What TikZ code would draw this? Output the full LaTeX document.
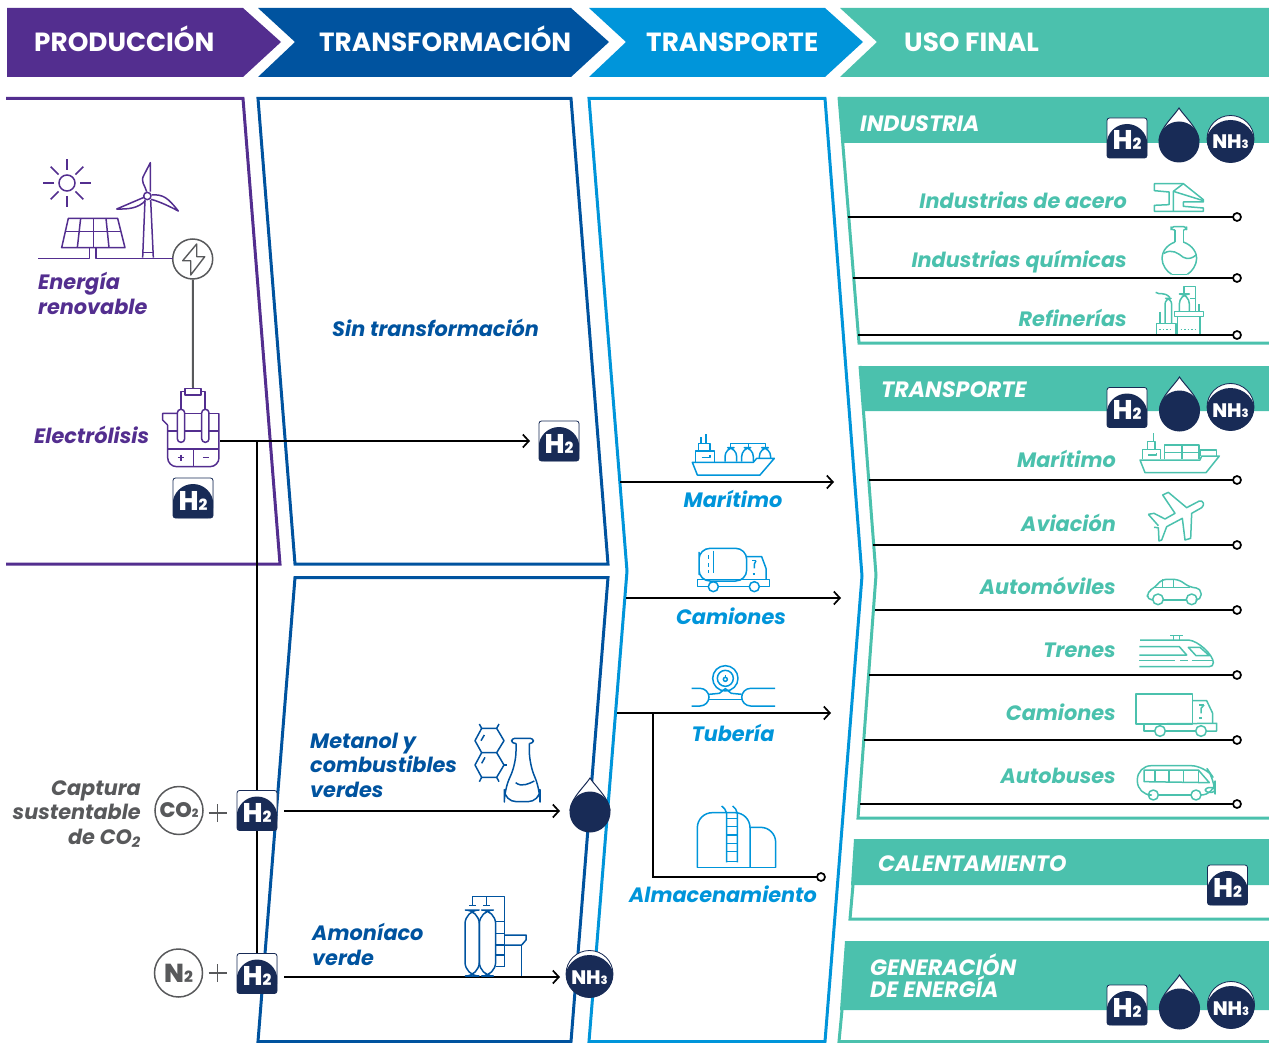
\documentclass[tikz,border=0pt]{standalone}
\usepackage{fontspec}
\setmainfont{Poppins}
\newfontfamily\heavyfont{Poppins ExtraBold}
\usetikzlibrary{arrows.meta,backgrounds}
\definecolor{prodcol}{HTML}{532E8F}
\definecolor{transfcol}{HTML}{00539F}
\definecolor{skycol}{HTML}{0095DA}
\definecolor{tealcol}{HTML}{4BC1AD}
\definecolor{navycol}{HTML}{182B56}
\definecolor{graycol}{HTML}{58595B}
\tikzset{
	headtxt/.style={anchor=west,inner sep=0,text=white,text height=22pt,text depth=0pt,font=\bfseries\fontsize{26.3}{26}\selectfont},
	bandtxt/.style={anchor=west,inner sep=0,align=left,text=white,font=\bfseries\itshape\fontsize{22.2}{22}\selectfont},
	lbl/.style={inner sep=0,font=\bfseries\itshape\fontsize{20.8}{24.5}\selectfont},
	lone/.style={lbl,text height=15pt,text depth=0pt},
	hbadge/.style={rounded corners=2.5pt,draw=navycol,line width=.8pt,fill=navycol,minimum size=40pt,inner sep=0,outer sep=0,
		text=white,text height=24pt,text depth=0pt,font=\heavyfont\fontsize{27}{27}\selectfont,
		path picture={\fill[white] (path picture bounding box.north west) rectangle ([yshift=-6pt]path picture bounding box.east);
			\fill[navycol] ([yshift=-6.4pt]path picture bounding box.center) circle (20.4pt);}},
	nhbadge/.style={circle,draw=navycol,line width=.8pt,fill=navycol,minimum size=47pt,inner sep=0,outer sep=0,
		text=white,text height=20pt,text depth=0pt,font=\heavyfont\fontsize{19.5}{20}\selectfont,
		path picture={\fill[white] (path picture bounding box.north west) rectangle (path picture bounding box.east);
			\fill[navycol] ([yshift=-6pt]path picture bounding box.center) circle (25pt);}},
	dropnode/.style={circle,fill=navycol,minimum size=41pt,inner sep=0,outer sep=0},
	gascirc/.style={circle,draw=graycol,line width=1.5pt,fill=white,minimum size=48pt,inner sep=0,text=graycol},
	endring/.style={circle,draw=black,line width=1.7pt,fill=white,minimum size=8pt,inner sep=0,outer sep=0},
	conn/.style={draw=black,line width=1.7pt},
	flow/.style={conn,-{Straight Barb[length=6pt,width=13pt]}},
	panel/.style={line width=3pt},
	icn/.style={shift={(#1)},scale=1/3,line width=1.5pt,line join=round},
}
\newcommand{\hsub}[1]{{\fontsize{15.5}{16}\selectfont #1}}
\newcommand{\nsub}[1]{{\fontsize{11.5}{12}\selectfont #1}}
\newcommand{\dropmark}[3]{%
	\draw[navycol,fill=white,line width=1pt] (#2,#3-34) .. controls (#2-5,#3-26) and (#2-19,#3-14) .. (#2-20,#3-2) -- (#2+20,#3-2) .. controls (#2+19,#3-14) and (#2+5,#3-26) .. cycle;
	\node[dropnode] (#1) at (#2,#3) {};}
\begin{document}
\begin{tikzpicture}[x=1pt,y=-1pt]
	\useasboundingbox (0,0) rectangle (1269,1043);
	% headers
	\fill[prodcol] (7,8) -- (243,8) -- (281,42) -- (243,77) -- (7,77) -- cycle;
	\fill[transfcol] (258,8) -- (571,8) -- (609,42) -- (571,77) -- (258,77) -- (295,42) -- cycle;
	\fill[skycol] (589,8) -- (825,8) -- (863,42) -- (825,77) -- (589,77) -- (626,42) -- cycle;
	\fill[tealcol] (840,8) -- (1269,8) -- (1269,77) -- (840,77) -- (877,42) -- cycle;
	\node[headtxt] (hprod) at (34,41) {PRODUCCIÓN};
	\node[headtxt] (htransf) at (319,41) {TRANSFORMACIÓN};
	\node[headtxt] (htransp) at (646,41) {TRANSPORTE};
	\node[headtxt] (huso) at (904,41) {USO FINAL};
	% panels
	\begin{scope}[on background layer]
		\draw[panel,prodcol] (6,98.5) -- (243,98.5) -- (280,564) -- (6,564);
		\draw[panel,transfcol] (258,98.5) -- (571,98.5) -- (608,564) -- (295,564) -- cycle;
		\draw[panel,transfcol] (295,577.5) -- (608,577.5) -- (571,1041.5) -- (258,1041.5) -- cycle;
		\draw[panel,skycol] (589,98.5) -- (825,98.5) -- (862,576) -- (825,1041.5) -- (589,1041.5) -- (627,571) -- cycle;
		\fill[tealcol] (838,97) -- (1269,97) -- (1269,143) -- (842,143) -- cycle;
		\fill[tealcol] (859,366) -- (1269,366) -- (1269,411) -- (863,411) -- cycle;
		\fill[tealcol] (854,839) -- (1269,839) -- (1269,885) -- (851,885) -- cycle;
		\fill[tealcol] (845,941) -- (1269,941) -- (1269,1010) -- (840,1010) -- cycle;
		\draw[panel,tealcol] (839,97) -- (859,343) -- (1269,343);
		\draw[panel,tealcol] (860,366) -- (876,575) -- (858,818) -- (1269,818);
		\draw[panel,tealcol] (853,885) -- (850,919) -- (1269,919);
		\draw[panel,tealcol] (842,1010) -- (839,1041.5) -- (1269,1041.5);
	\end{scope}
	\node[bandtxt] (bind) at (860,124) {INDUSTRIA};
	\node[bandtxt] (btra) at (881,390) {TRANSPORTE};
	\node[bandtxt] (bcal) at (878,864) {CALENTAMIENTO};
	\node[bandtxt] (bgen) at (870,976) {GENERACIÓN\\DE ENERGÍA};
	% carrier marks
	\node[hbadge] (hele) at (193,498) {H\hsub{2}};
	\node[hbadge] (hsin) at (559,441) {H\hsub{2}};
	\node[hbadge] (hco) at (257,810.5) {H\hsub{2}};
	\node[hbadge] (hnit) at (257,973.5) {H\hsub{2}};
	\node[hbadge] (hind) at (1127,138) {H\hsub{2}};
	\node[hbadge] (htra) at (1127,407.5) {H\hsub{2}};
	\node[hbadge] (hcal) at (1227.5,885) {H\hsub{2}};
	\node[hbadge] (hgen) at (1127,1005) {H\hsub{2}};
	\node[nhbadge] (nind) at (1230.5,139) {NH\nsub{3}};
	\node[nhbadge] (ntra) at (1230.5,407) {NH\nsub{3}};
	\node[nhbadge] (ngen) at (1231,1005) {NH\nsub{3}};
	\node[nhbadge] (nverde) at (589.5,974) {NH\nsub{3}};
	\dropmark{dmet}{590}{812}
	\dropmark{dind}{1179}{142}
	\dropmark{dtra}{1179.5}{411}
	\dropmark{dgen}{1179.5}{1009}
	% production
	\node[lbl,prodcol,anchor=west,align=left] (lren) at (38,293.5) {Energía\\renovable};
	\node[lone,prodcol,anchor=west] (lele) at (34,436) {Electrólisis};
	\node[lbl,graycol,anchor=east,align=right] (lcap) at (141,814) {Captura\\sustentable\\de CO\textsubscript{2}};
	\node[gascirc,font=\heavyfont\fontsize{21}{21}\selectfont] (gco) at (179,810.5) {CO\nsub{2}};
	\node[gascirc,font=\heavyfont\fontsize{26}{26}\selectfont] (gni) at (178.5,973) {N\hsub{2}};
	\node[circle,draw=graycol,line width=1.5pt,fill=white,minimum size=40pt,inner sep=0] (bolt) at (192.7,259) {};
	\draw[graycol,line width=1.4pt,line join=round] (196.7,244) -- (182.7,260.7) -- (190.7,260.7) -- (190.7,275) -- (204.7,256.7) -- (196.7,256.7) -- cycle;
	\coordinate (eletop) at (193,388);
	\coordinate (eleout) at (220,441);
	\coordinate (bus) at (257,441);
	\draw[graycol,line width=2pt] (bolt) -- (eletop);
	\foreach \pa/\pb in {0/13,90/13,180/13,270/13,45/12,135/12,225/12,315/12}
		\draw[prodcol,line width=1.5pt] (67,183) ++(\pa:\pb) -- ++(\pa:11);
	\draw[prodcol,line width=1.5pt] (67,183) circle (8);
	\begin{scope}[icn={0,90},prodcol]
		\draw (205,385) -- (353,385) -- (375,473) -- (185,473) -- cycle;
		\draw (195,425) -- (363,425);
		\draw (242,385) -- (232,473);
		\draw (280,385) -- (280,473);
		\draw (318,385) -- (327,473);
		\draw (115,505) -- (268,505) -- (268,475);
		\draw (288,475) -- (288,505) -- (520,505);
		\draw (428,503) -- (435,330);
		\draw (460,503) -- (452,330);
		\draw (428,488) -- (460,488);
		\draw (442,318) circle (11);
		\draw (440,305) .. controls (435,285) and (420,275) .. (432,255) -- (451,218) -- (451,305);
		\draw (432,322) -- (350,357) .. controls (385,358) and (415,355) .. (436,332);
		\draw (455,315) .. controls (490,312) and (505,325) .. (535,363) .. controls (510,350) and (480,335) .. (453,328);
	\end{scope}
	\begin{scope}[icn={0,370},prodcol]
		\draw (555,55) rectangle (603,75);
		\draw (555,65) -- (543,65) -- (543,118);
		\draw (603,65) -- (615,65) -- (615,118);
		\draw[rounded corners=9pt] (503,165) -- (503,290) -- (657,290) -- (657,130);
		\draw (657,130) -- (627,130);
		\draw (605,130) -- (554,130);
		\draw (532,130) -- (488,130) -- (488,150) -- (503,165);
		\draw (503,183) -- (532,183);
		\draw (554,183) -- (605,183);
		\draw (627,183) -- (657,183);
		\draw (503,237) -- (657,237);
		\draw (581,237) -- (581,290);
		\draw[rounded corners=3.5pt] (532,118) rectangle (554,217);
		\draw[rounded corners=3.5pt] (605,118) rectangle (627,217);
		\draw (534,263) -- (552,263);
		\draw (543,254) -- (543,272);
		\draw (609,263) -- (627,263);
	\end{scope}
	\draw[graycol,line width=1.2pt] (208.7,813) -- (226.7,813);
	\draw[graycol,line width=1.2pt] (217.7,804) -- (217.7,822);
	\draw[graycol,line width=1.2pt] (208.7,973) -- (226.7,973);
	\draw[graycol,line width=1.2pt] (217.7,964) -- (217.7,982);
	% transformation
	\node[lone,transfcol,anchor=west] (lsin) at (332,329) {Sin transformación};
	\node[lbl,transfcol,anchor=west,align=left] (lmet) at (310,765) {Metanol y\\combustibles\\verdes};
	\node[lbl,transfcol,anchor=west,align=left] (lamo) at (312,944.5) {Amoníaco\\verde};
	\begin{scope}[icn={450,700},transfcol]
		\draw (95,85) -- (140,85) -- (162,122) -- (140,158) -- (95,158) -- (75,122) -- cycle;
		\draw (95,158) -- (75,195) -- (95,232) -- (140,232) -- (162,195) -- (140,158);
		\draw (95,85) -- (88,72);
		\draw (140,85) -- (147,72);
		\draw (95,232) -- (88,245);
		\draw (140,232) -- (147,245);
		\draw (162,195) -- (170,195);
		\draw (103,105) -- (93,122);
		\draw (105,172) -- (95,190);
		\draw[rounded corners=3pt] (198,130) -- (185,130) -- (185,115) -- (250,115) -- (250,130) -- (238,130);
		\draw[rounded corners=12pt] (198,130) -- (198,190) -- (163,270) -- (163,305) -- (270,305) -- (270,270) -- (238,190) -- (238,130);
		\draw (197,248) .. controls (215,262) and (235,252) .. (253,243);
		\draw[rounded corners=14pt] (45,828) -- (45,630) -- (88,630) -- (88,828) -- cycle;
		\draw[rounded corners=14pt] (88,828) -- (88,630) -- (137,630) -- (137,828) -- cycle;
		\draw (68,617) -- (68,590) -- (163,590) -- (163,800);
		\draw (110,590) -- (110,617);
		\draw (58,617) -- (78,617);
		\draw (100,617) -- (120,617);
		\foreach \ya in {665,700,735,765,800}
			\draw (137,\ya) -- (163,\ya);
		\draw (163,705) -- (228,705) -- (228,720) -- (215,735) -- (163,735);
		\draw (215,735) -- (215,828);
	\end{scope}
	% transport
	\node[lone,skycol] (lmar) at (733,500) {Marítimo};
	\node[lone,skycol] (lcam) at (731,617) {Camiones};
	\node[lone,skycol] (ltub) at (733,734) {Tubería};
	\node[lone,skycol] (lalm) at (723,895) {Almacenamiento};
	\begin{scope}[icn={620,420},skycol]
		\draw (217,127) -- (400,127) -- (410,115) -- (463,115) -- (420,165) -- (232,165) -- cycle;
		\draw (227,125) -- (227,93) -- (283,93) -- (283,125);
		\draw (235,93) -- (235,70) -- (270,70) -- (270,93);
		\draw (258,70) -- (258,43);
		\draw (243,70) -- (243,50);
		\draw (245,113) -- (270,113) -- (270,105);
		\draw[rounded corners=9pt] (315,125) -- (315,83) -- (350,83) -- (350,125);
		\draw[rounded corners=9pt] (365,125) -- (365,83) -- (400,83) -- (400,125);
		\draw[rounded corners=9pt] (418,115) -- (418,83) -- (452,83) -- (452,115);
		\draw (332,83) -- (332,70) -- (437,70) -- (437,83);
		\draw (385,70) -- (385,83);
		\draw[rounded corners=11pt] (237,430) -- (237,385) -- (380,385) -- (380,483) -- (237,483) -- cycle;
		\draw (280,392) -- (280,458);
		\draw (265,405) -- (265,418);
		\draw (265,430) -- (265,440);
		\draw (265,450) -- (265,460);
		\draw (380,410) -- (425,410) -- (438,445) -- (438,478);
		\draw (408,422) -- (395,422);
		\draw (408,422) -- (403,432) -- (403,445);
		\draw (398,462) -- (406,462);
		\draw (265,500) -- (232,500) -- (232,478) -- (448,478) -- (448,500) -- (418,500);
		\draw (295,500) -- (388,500);
		\draw (280,500) circle (15);
		\draw (403,500) circle (15);
		\draw (316,775) circle (38);
		\draw (316,775) circle (24);
		\draw (316,778) circle (6);
		\draw (316,765) -- (316,772);
		\draw[rounded corners=9pt] (215,805) -- (267,805) -- (267,858) -- (215,858);
		\draw[rounded corners=9pt] (465,805) -- (365,805) -- (365,858) -- (465,858);
		\draw (267,823) -- (298,820) -- (316,806) -- (334,820) -- (365,823);
		\draw (267,838) -- (365,838);
	\end{scope}
	\begin{scope}[icn={620,700},skycol]
		\draw[rounded corners=15pt] (232,503) -- (232,338) -- (390,338) -- (390,503);
		\draw[rounded corners=15pt] (390,382) -- (467,382) -- (467,503);
		\draw (232,503) -- (467,503);
		\draw (320,487) -- (320,340) .. controls (318,330) and (312,323) .. (305,318);
		\draw (352,487) -- (352,340) .. controls (350,330) and (345,323) .. (338,318);
		\foreach \ya in {355,380,405,430,455,485}
			\draw (320,\ya) -- (352,\ya);
	\end{scope}
	% end uses
	\node[lone,tealcol,anchor=east] (lacero) at (1127,201) {Industrias de acero};
	\node[lone,tealcol,anchor=east] (lquim) at (1127,260) {Industrias químicas};
	\node[lone,tealcol,anchor=east] (lref) at (1127,319) {Refinerías};
	\node[lone,tealcol,anchor=east] (lumar) at (1116,460) {Marítimo};
	\node[lone,tealcol,anchor=east] (lavi) at (1116,524) {Aviación};
	\node[lone,tealcol,anchor=east] (laut) at (1116,587) {Automóviles};
	\node[lone,tealcol,anchor=east] (ltre) at (1116,650) {Trenes};
	\node[lone,tealcol,anchor=east] (lucam) at (1116,713) {Camiones};
	\node[lone,tealcol,anchor=east] (lbus) at (1116,776) {Autobuses};
	\begin{scope}[icn={1145,178},tealcol]
		\draw (28,17) -- (115,17) -- (175,65) -- (175,72) -- (115,72) -- (115,85) -- (175,90) -- (175,100) -- (28,100) -- (28,82) -- (72,80) -- (72,42) -- (28,38) -- cycle;
		\draw (115,17) -- (85,40) -- (85,100);
		\draw (85,40) -- (175,68);
	\end{scope}
	\begin{scope}[icn={1090,95},tealcol]
		\draw[rounded corners=3pt] (255,405) -- (243,405) -- (243,395) -- (290,395) -- (290,405) -- (280,405);
		\draw (255,405) -- (255,441);
		\draw (280,405) -- (280,441);
		\draw (245,538) -- (292,538);
		\draw (255,441) .. controls (225,452) and (216,475) .. (216,490) .. controls (216,510) and (230,530) .. (245,538);
		\draw (280,441) .. controls (310,452) and (320,475) .. (320,490) .. controls (320,510) and (306,530) .. (292,538);
		\draw (222,475) .. controls (245,460) and (265,475) .. (280,487) .. controls (295,495) and (310,488) .. (318,480);
		\draw (200,718) -- (200,685) -- (258,685) -- (258,718);
		\draw[rounded corners=6pt] (225,685) -- (225,610) -- (245,610) -- (245,685);
		\draw (197,592) .. controls (210,602) and (222,588) .. (240,608);
		\draw (210,650) -- (210,685);
		\draw (253,650) -- (340,650) -- (340,665) -- (253,665) -- cycle;
		\draw (262,665) -- (262,718);
		\draw (330,665) -- (330,718);
		\draw[rounded corners=10pt] (268,650) -- (268,597) -- (298,597) -- (298,650);
		\draw (282,597) -- (282,575) -- (317,575) -- (317,650);
		\draw (300,610) -- (317,610);
		\draw (327,628) -- (327,650);
		\draw[dash pattern=on 1.5pt off 2pt] (208,703) -- (250,703);
		\draw[dash pattern=on 1.5pt off 2pt] (272,703) -- (320,703);
	\end{scope}
	\begin{scope}[icn={1140,485},tealcol]
		\draw (25,88) -- (42,85) -- (75,102) -- (105,85) -- (68,30) -- (85,22) -- (140,68) -- (178,48) .. controls (190,45) and (195,60) .. (185,68) -- (155,85) -- (152,160) -- (135,165) -- (127,100) -- (80,125) -- (65,165) -- (57,168) -- (55,128) -- (42,127);
		\draw (25,88) -- (55,122);
	\end{scope}
	\begin{scope}[icn={1090,370},tealcol]
		\draw (150,270) -- (330,270) -- (335,258) -- (388,258) -- (348,308) -- (165,308) -- cycle;
		\draw (158,268) -- (158,238) -- (212,238) -- (212,268);
		\draw (172,238) -- (172,215) -- (195,215) -- (195,238);
		\draw (190,215) -- (190,190);
		\draw (175,255) -- (200,255) -- (200,248);
		\draw (223,268) -- (223,225) -- (327,225) -- (327,268);
		\draw (223,247) -- (327,247);
		\draw (276,225) -- (276,268);
		\draw (330,258) -- (330,240) -- (380,240) -- (380,258);
		\draw[rounded corners=5pt] (188,690) -- (172,690) -- (172,665) -- (195,652) -- (215,628) -- (265,628) -- (300,652) -- (333,655) -- (333,690) -- (322,690);
		\draw (220,690) -- (290,690);
		\draw (195,652) -- (300,652);
		\draw (218,628) -- (218,652);
		\draw (250,628) -- (250,652);
		\draw (204,688) circle (16);
		\draw (305,688) circle (16);
	\end{scope}
	\begin{scope}[icn={1090,620},tealcol]
		\draw (150,60) -- (295,60) .. controls (325,62) and (370,105) .. (370,128) .. controls (370,136) and (365,140) .. (358,140) -- (148,140);
		\draw (240,47) -- (278,47);
		\draw (250,47) -- (250,60);
		\draw (268,47) -- (268,60);
		\draw (148,80) -- (268,80) -- (290,105) -- (148,105);
		\draw (148,122) -- (255,122);
		\draw (270,122) -- (295,122);
		\draw (305,122) -- (365,122);
		\draw (295,82) -- (330,82) -- (358,107) -- (318,107) -- cycle;
		\draw (138,312) rectangle (307,222);
		\draw (307,242) -- (350,242) -- (368,280) -- (368,310);
		\draw (342,255) -- (327,255);
		\draw (342,255) -- (333,265) -- (333,280);
		\draw (327,294) -- (337,294);
		\draw (194,333) -- (162,333) -- (162,312);
		\draw (138,312) -- (380,310) -- (380,333) -- (350,333);
		\draw (227,333) -- (317,333);
		\draw (210,333) circle (16);
		\draw (333,333) circle (16);
		\draw[rounded corners=14pt] (175,525) -- (142,525) -- (142,437) -- (345,437) -- (375,480) -- (375,525) -- (335,525);
		\draw (205,525) -- (303,525);
		\draw (162,450) -- (325,450) -- (358,488) -- (162,485) -- cycle;
		\foreach \xa in {195,237,280,325}
			\draw (\xa,450) -- (\xa,486);
		\draw[rounded corners=3pt] (346,503) rectangle (375,517);
		\draw (190,525) circle (15);
		\draw (318,525) circle (15);
	\end{scope}
	% connectors
	\coordinate (metin) at (284,811);
	\coordinate (metend) at (560,811);
	\coordinate (amoin) at (284,977);
	\coordinate (amoend) at (560,977);
	\begin{scope}[on background layer]
		\draw[conn] (bus) -- (hnit);
		\draw[flow] (eleout) -- ([xshift=-9pt]hsin.west);
		\draw[flow] (metin) -- (metend);
		\draw[flow] (amoin) -- (amoend);
	\end{scope}
	\coordinate (tmar) at (620,482);
	\coordinate (tmarend) at (834,482);
	\coordinate (tcam) at (626,598);
	\coordinate (tcamend) at (841,598);
	\coordinate (ttub) at (617,713);
	\coordinate (ttubend) at (831,713);
	\coordinate (tbranch) at (653,713);
	\node[endring] (ralm) at (821,877) {};
	\draw[flow] (tmar) -- (tmarend);
	\draw[flow] (tcam) -- (tcamend);
	\draw[flow] (ttub) -- (ttubend);
	\draw[conn] (tbranch) |- (ralm);
	\foreach \cname/\xa/\ya in {acero/848/217,quim/853/278,ref/858/335,umar/869/480,avi/873/545,aut/875/610,tre/869/675,ucam/864/740,bus/860/804} {
		\coordinate (s\cname) at (\xa,\ya);
		\node[endring] (r\cname) at (1237,\ya) {};
		\draw[conn] (s\cname) -- (r\cname);
	}
\end{tikzpicture}
\end{document}
